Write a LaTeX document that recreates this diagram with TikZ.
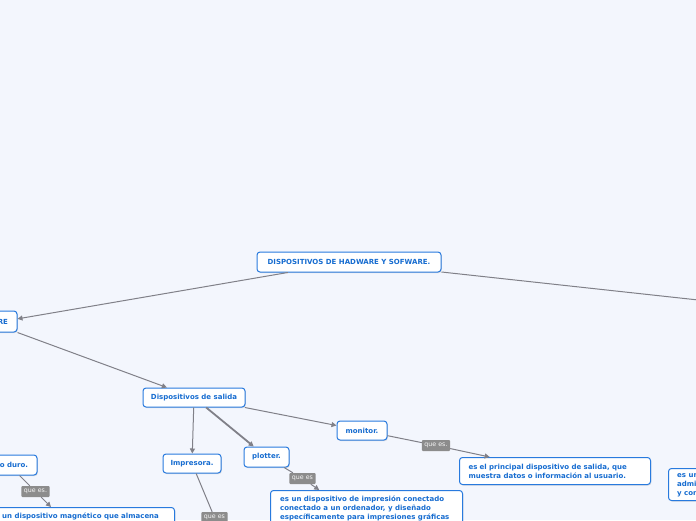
\documentclass[tikz,border=0pt]{standalone}
\usepackage{fontspec}
\setmainfont{DejaVu Sans}
\usetikzlibrary{arrows.meta,shadows}
\definecolor{bgc}{RGB}{243,246,253}
\definecolor{boxblue}{RGB}{40,122,222}
\definecolor{txtblue}{RGB}{22,108,208}
\definecolor{edgegray}{RGB}{128,128,136}
\definecolor{lblgray}{RGB}{140,140,140}
\tikzset{
  box/.style={draw=boxblue, line width=1pt, rounded corners=3pt, fill=white,
    text=txtblue, font=\fontsize{7}{9}\selectfont\bfseries, inner xsep=0pt, inner ysep=0pt,
    drop shadow={shadow xshift=0.8pt, shadow yshift=-1pt, opacity=0.25}},
  btext/.style={text=txtblue, font=\fontsize{7}{9}\selectfont\bfseries, inner sep=0pt, align=left, anchor=north west},
  lbl/.style={fill=lblgray, text=white!92!lblgray, font=\fontsize{6.3}{7}\selectfont, inner xsep=2.5pt, inner ysep=0pt,
    minimum height=11pt, rounded corners=1pt},
  edge/.style={draw=edgegray, line width=1pt},
  tip/.style={-{Triangle[length=5pt,width=5pt]}}
}
\begin{document}
\begin{tikzpicture}[x=1pt,y=-1pt]
\useasboundingbox (0,0) rectangle (696,520);
\clip (0,0) rectangle (696,520);
\fill[bgc] (0,0) rectangle (696,520);

% main nodes
\node[box, minimum width=184pt, minimum height=20pt] (root) at (349,262) {DISPOSITIVOS DE HADWARE Y SOFWARE.};
\node[box, text width=12pt, align=right, inner xsep=9pt, minimum height=21pt] (hw) at (2,321.5) {RE};
\node[box, minimum width=102pt, minimum height=19pt] (dsal) at (194,397.5) {Dispositivos de salida};
\node[box, minimum width=58pt, minimum height=19pt] (imp) at (192,463.5) {Impresora.};
\node[box, minimum width=45pt, minimum height=20pt] (plot) at (266.5,457) {plotter.};
\node[box, minimum width=50pt, minimum height=19pt] (mon) at (362,430.5) {monitor.};
\node[box, text width=38pt, align=right, inner xsep=9pt, minimum height=20pt] (disco) at (9,465) {o duro.};

% description boxes
\node[box, anchor=north west, text width=173pt, align=left, inner xsep=9pt, minimum height=27pt] (desc1) at (459,457)
  {es el principal dispositivo de salida, que\\muestra datos o información al usuario.};
\node[box, anchor=north west, minimum width=192pt, minimum height=64pt] (desc2) at (270,490) {};
\node[btext] (desc2t) at (280,495.5) {es un dispositivo de impresión conectado\\conectado a un ordenador, y diseñado\\específicamente para impresiones gráficas};
\node[box, anchor=north west, minimum width=188pt, minimum height=58pt] (desc3) at (-14,507) {};
\node[btext] (desc3t) at (2,512.5) {un dispositivo magnético que almacena};
\node[box, anchor=north west, minimum width=150pt, minimum height=32pt] (desc4) at (668,468) {};
\node[btext] (desc4t) at (677,473) {es un\\admi\\y con};

% labels
\node[lbl] (l1) at (436,445.5) {que es.};
\node[lbl] (l2) at (302.5,478.5) {que es};
\node[lbl] (l3) at (214.5,517.5) {que es};
\node[lbl] (l4) at (35.5,491.5) {que es.};

% free ends
\coordinate (rootR) at (900,322);
\coordinate (impend) at (228,552);

% connectors
\draw[edge, tip] (root) -- (hw);
\draw[edge] (root) -- (rootR);
\draw[edge, tip] (hw.south east) -- (dsal);
\draw[edge, tip] (dsal) -- (imp);
\draw[edge, tip, line width=1.8pt] (dsal) -- (plot);
\draw[edge, tip] (dsal) -- (mon);
\draw[edge] (mon) -- (l1);
\draw[edge, tip] (l1) -- (desc1);
\draw[edge] (plot) -- (l2);
\draw[edge, tip] (l2) -- (desc2);
\draw[edge] (imp) -- (l3);
\draw[edge] (l3) -- (impend);
\draw[edge] (disco) -- (l4);
\draw[edge, tip] (l4) -- (desc3);
\end{tikzpicture}
\end{document}
